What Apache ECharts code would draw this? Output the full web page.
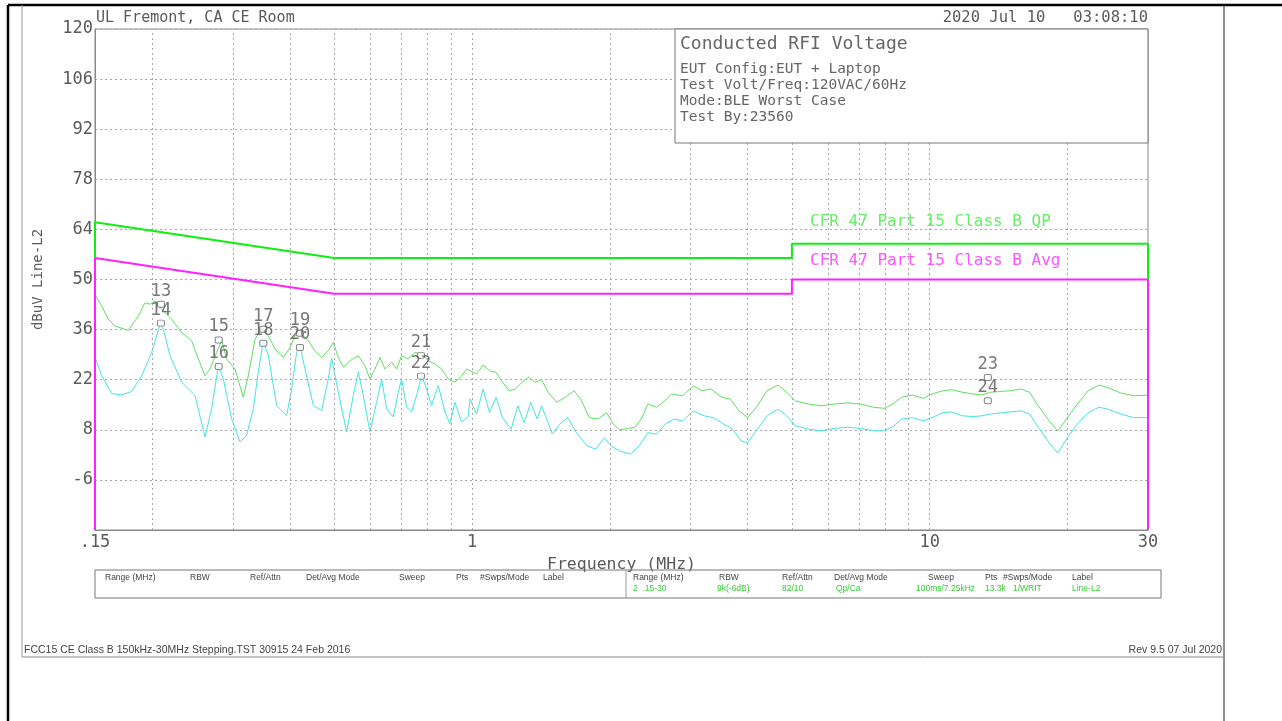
<!DOCTYPE html>
<html>
<head>
<meta charset="utf-8">
<script src="https://cdn.jsdelivr.net/npm/echarts@6/dist/echarts.min.js"></script>
<style>
  html, body { margin: 0; padding: 0; background: #fff; }
  #chart { width: 1282px; height: 721px; }
</style>
</head>
<body>
<div id="chart"></div>
<script>
// values (MHz / dBuV)
const xTickText = { '0.15': '.15', '1': '1', '10': '10', '30': '30' };
const gridFreqs = [0.2, 0.3, 0.4, 0.5, 0.6, 0.7, 0.8, 0.9, 1, 2, 3, 4, 5, 6, 7, 8, 9, 10, 20];

const qpFreq = [
  0.150, 0.1551, 0.1604, 0.1659, 0.1774, 0.1866, 0.1929, 0.1979, 0.2029, 0.2098,
  0.2206, 0.2320, 0.2439, 0.2523, 0.2609, 0.2675, 0.2766, 0.2837, 0.2909, 0.3033,
  0.3163, 0.3244, 0.3355, 0.3469, 0.3588, 0.3710, 0.3869, 0.4001, 0.4103, 0.4243,
  0.4388, 0.4537, 0.4692, 0.4852, 0.4976, 0.5102, 0.5232, 0.5411, 0.5643, 0.5835,
  0.5983, 0.6135, 0.6292, 0.6452, 0.6672, 0.6842, 0.7016, 0.7255, 0.7503, 0.7759,
  0.8023, 0.8297, 0.8580, 0.8872, 0.9174, 0.9488, 0.9730,
  0.990, 1.023, 1.057, 1.092, 1.128, 1.166, 1.205, 1.245, 1.286, 1.329,
  1.373, 1.419, 1.466, 1.532, 1.600, 1.672, 1.727, 1.804, 1.885, 1.969,
  2.034, 2.102, 2.196, 2.269, 2.344, 2.422, 2.531, 2.615, 2.731, 2.884,
  3.045, 3.181, 3.323, 3.510, 3.667, 3.830, 4.001, 4.180, 4.413, 4.661,
  4.869, 5.087, 5.431, 5.799, 6.190, 6.610, 7.058, 7.535, 7.958, 8.312,
  8.683, 9.171, 9.685, 10.12, 10.69, 11.16, 11.79, 12.45, 13.00, 13.58,
  14.19, 14.98, 15.82, 16.53, 17.27, 18.24, 19.05, 19.90, 21.02, 22.20,
  23.44, 24.49, 26.15, 27.91, 30.0
];
const qpLevel = [
  45.8, 42.6, 38.9, 37.0, 35.8, 39.8, 43.5, 43.1, 44.0, 41.7,
  38.9, 35.2, 32.9, 27.8, 23.1, 25.0, 29.6, 33.0, 27.8, 25.0,
  17.1, 23.1, 33.3, 36.1, 34.3, 30.6, 28.2, 31.0, 34.3, 34.7,
  32.9, 30.1, 28.2, 30.1, 32.4, 28.2, 25.5, 27.3, 28.7, 25.9,
  22.2, 25.0, 28.2, 25.0, 26.9, 25.0, 28.7, 27.8, 29.6, 29.2,
  27.3, 26.4, 25.0, 22.2, 21.3, 23.1, 25.0,
  24.5, 23.6, 26.1, 24.5, 24.1, 21.3, 18.9, 19.4, 21.3, 22.7,
  21.3, 22.0, 18.5, 15.7, 17.1, 18.9, 16.6, 11.4, 11.0, 12.8,
  9.6, 8.0, 8.4, 8.7, 11.0, 15.2, 14.3, 15.7, 18.0, 17.5,
  20.3, 18.9, 19.4, 17.1, 16.6, 13.3, 11.4, 14.3, 18.9, 20.5,
  18.5, 16.1, 15.2, 14.7, 15.2, 15.5, 15.2, 14.3, 14.0, 15.2,
  17.1, 17.7, 16.8, 18.0, 18.9, 19.2, 18.5, 18.0, 17.7, 18.5,
  18.7, 18.9, 19.4, 18.5, 14.7, 10.5, 7.7, 11.0, 15.2, 18.9,
  20.5, 19.8, 18.3, 17.5, 17.7
];

const avgFreq = [
  0.150, 0.1551, 0.1631, 0.1716, 0.1804, 0.1897, 0.1995, 0.2081, 0.2116, 0.2188,
  0.2320, 0.2481, 0.2609, 0.2698, 0.2790, 0.2861, 0.2983, 0.3111, 0.3217, 0.3327,
  0.3411, 0.3498, 0.3588, 0.3741, 0.3935, 0.4035, 0.4137, 0.4207, 0.4315, 0.4499,
  0.4692, 0.4852, 0.4934, 0.5102, 0.5321, 0.5502, 0.5643, 0.5786, 0.5983, 0.6187,
  0.6345, 0.6506, 0.6728, 0.6900, 0.7016, 0.7195, 0.7378, 0.7566, 0.7759, 0.7956,
  0.8159, 0.8437, 0.8725, 0.8947, 0.9174, 0.9488, 0.9811,
  0.990, 1.023, 1.057, 1.092, 1.128, 1.166, 1.218, 1.259, 1.300, 1.344,
  1.388, 1.419, 1.498, 1.565, 1.618, 1.690, 1.784, 1.864, 1.947, 2.012,
  2.102, 2.220, 2.319, 2.422, 2.531, 2.644, 2.761, 2.884, 3.045, 3.216,
  3.360, 3.549, 3.707, 3.873, 4.001, 4.180, 4.413, 4.661, 4.869, 5.087,
  5.431, 5.799, 6.190, 6.610, 7.058, 7.535, 7.958, 8.312, 8.683, 9.171,
  9.685, 10.12, 10.69, 11.16, 11.79, 12.45, 13.00, 13.58, 14.19, 14.98,
  15.82, 16.53, 17.27, 18.24, 19.05, 19.90, 21.02, 22.20, 23.44, 24.49,
  26.15, 27.91, 30.0
];
const avgLevel = [
  28.2, 23.1, 18.1, 17.8, 18.7, 23.1, 29.6, 37.5, 36.1, 28.7,
  21.3, 17.6, 6.0, 13.9, 25.9, 22.2, 11.1, 4.6, 6.5, 13.9,
  24.1, 32.9, 28.7, 14.8, 12.0, 19.4, 29.6, 31.5, 25.0, 14.8,
  13.4, 22.2, 28.0, 18.5, 7.4, 17.6, 24.1, 17.6, 7.4, 15.7,
  22.2, 13.9, 11.6, 18.5, 22.2, 14.3, 13.0, 17.6, 23.1, 19.4,
  14.8, 20.4, 13.0, 9.7, 15.7, 10.2, 11.6,
  16.6, 12.4, 19.4, 12.8, 17.1, 11.4, 8.2, 14.7, 10.0, 15.7,
  11.0, 14.7, 6.8, 10.0, 11.4, 7.2, 3.5, 2.6, 5.8, 3.5,
  2.1, 1.2, 3.5, 7.2, 6.8, 9.6, 11.0, 10.5, 13.3, 11.9,
  11.4, 9.6, 8.2, 4.9, 4.4, 7.7, 11.9, 13.8, 11.9, 9.1,
  8.2, 7.7, 8.4, 8.7, 8.4, 7.7, 7.7, 8.9, 11.0, 11.4,
  10.5, 11.4, 12.8, 13.0, 11.9, 11.7, 11.9, 12.4, 12.7, 13.0,
  13.3, 12.4, 8.7, 4.4, 1.5, 5.4, 9.6, 12.8, 14.3, 13.8,
  12.4, 11.4, 11.4
];

const qpLimitFreq = [0.15, 0.15, 0.5, 5, 5, 30, 30];
const qpLimitLevel = [56, 66, 56, 56, 60, 60, 50];
const avgLimitFreq = [0.15, 0.15, 0.5, 5, 5, 30, 30];
const avgLimitLevel = [-20, 56, 46, 46, 50, 50, -20];

const markerIds = ['13', '14', '15', '16', '17', '18', '19', '20', '21', '22', '23', '24'];
const markerFreq = [0.209, 0.209, 0.2795, 0.2795, 0.3498, 0.3498, 0.4207, 0.4207, 0.7733, 0.7733, 13.4, 13.4];
const markerLevel = [43.1, 37.8, 33.1, 25.7, 36.1, 32.2, 35.0, 31.0, 28.8, 23.0, 22.6, 16.1];

const infoLines = ['EUT Config:EUT + Laptop', 'Test Volt/Freq:120VAC/60Hz', 'Mode:BLE Worst Case', 'Test By:23560'];
const tableHead = ['Range (MHz)', 'RBW', 'Ref/Attn', 'Det/Avg Mode', 'Sweep', 'Pts', '#Swps/Mode', 'Label'];
const tableRow = ['2  .15-30', '9k(-6dB)', '82/10', 'Qp/Ca', '100ms/7.25kHz', '13.3k', '1/WRIT', 'Line-L2'];

const zip = (xs, ys) => xs.map((x, i) => [x, ys[i]]);

const FONT = 'DejaVu Sans Mono';
const TXT = '#5a5a5a';
const GRID = '#a8a8a8';

const chart = echarts.init(document.getElementById('chart'));

function txt(x, y, text, size, color, align, family) {
  return {
    type: 'text', x, y, z: 120,
    style: {
      text, fontFamily: family || FONT, fontSize: size, fill: color || TXT,
      align: align || 'left', verticalAlign: 'middle'
    }
  };
}
function line(x1, y1, x2, y2, color, w) {
  return { type: 'line', z: 120, shape: { x1, y1, x2, y2 }, style: { stroke: color, lineWidth: w } };
}

const colHead = [105, 190, 250, 306, 399, 456, 480, 543];
const colHead2 = [633, 719, 782, 834, 928, 985, 1003, 1072];
const colVal2 = [633, 717, 782, 836, 916, 985, 1013, 1072];

const graphics = [
  line(8, 5, 1282, 5, '#000', 2.5),
  line(8, 5, 8, 721, '#000', 2.5),
  line(1224, 5, 1224, 721, '#222', 1),
  line(22, 5, 22, 657, '#999', 1),
  line(22, 657, 1224, 657, '#888', 1),
  txt(96, 18, 'UL Fremont, CA CE Room', 15),
  txt(1148, 18, '2020 Jul 10   03:08:10', 15.5, TXT, 'right'),
  { type: 'rect', z: 110, shape: { x: 675, y: 29, width: 473, height: 114 }, style: { fill: '#fff', stroke: '#777', lineWidth: 1 } },
  txt(680, 44, 'Conducted RFI Voltage', 18, '#666'),
  txt(810, 222, 'CFR 47 Part 15 Class B QP', 16, '#66ee66'),
  txt(810, 261, 'CFR 47 Part 15 Class B Avg', 16, '#ff55ff'),
  { type: 'rect', z: 110, shape: { x: 95, y: 570, width: 1066, height: 28 }, style: { fill: 'none', stroke: '#777', lineWidth: 1 } },
  line(626, 570, 626, 598, '#999', 1),
  txt(24, 650, 'FCC15 CE Class B 150kHz-30MHz Stepping.TST 30915 24 Feb 2016', 10.5, '#444', 'left', 'Liberation Sans'),
  txt(1222, 650, 'Rev 9.5 07 Jul 2020', 10.5, '#444', 'right', 'Liberation Sans')
];
infoLines.forEach((t, i) => graphics.push(txt(680, 69 + i * 16, t, 14.5, '#666')));
tableHead.forEach((t, i) => {
  graphics.push(txt(colHead[i], 578, t, 8.5, '#444', 'left', 'Liberation Sans'));
  graphics.push(txt(colHead2[i], 578, t, 8.5, '#444', 'left', 'Liberation Sans'));
});
tableRow.forEach((t, i) => {
  graphics.push(txt(colVal2[i], 589, t, 8.5, '#33cc33', 'left', 'Liberation Sans'));
});

const option = {
  animation: false,
  backgroundColor: '#fff',
  grid: { left: 95, right: 134, top: 29, bottom: 191, show: true, borderColor: '#888', borderWidth: 1 },
  xAxis: {
    type: 'log', logBase: 10, min: 0.15, max: 30,
    axisLine: { show: true, onZero: false, lineStyle: { color: '#888' } },
    axisTick: { show: false },
    splitLine: { show: false },
    axisLabel: {
      color: TXT, fontFamily: FONT, fontSize: 17, margin: 4,
      showMinLabel: true, showMaxLabel: true,
      formatter: v => xTickText[String(Math.round(v * 100) / 100)] || ''
    },
    name: 'Frequency (MHz)', nameLocation: 'middle', nameGap: 25,
    nameTextStyle: { color: TXT, fontFamily: FONT, fontSize: 16.5 }
  },
  yAxis: {
    type: 'value', min: -20, max: 120, interval: 14,
    axisLine: { show: true, lineStyle: { color: '#888' } },
    axisTick: { show: false },
    splitLine: { show: true, lineStyle: { color: GRID, type: [2, 3], width: 1 } },
    axisLabel: {
      color: TXT, fontFamily: FONT, fontSize: 17, margin: 2,
      formatter: v => (v === -20 ? '' : String(v))
    },
    name: 'dBuV Line-L2', nameLocation: 'middle', nameRotate: 90, nameGap: 50,
    nameTextStyle: { color: TXT, fontFamily: FONT, fontSize: 14 }
  },
  graphic: graphics,
  series: [
    {
      name: 'grid', type: 'line', data: [], silent: true,
      markLine: {
        silent: true, symbol: 'none', label: { show: false },
        lineStyle: { color: GRID, type: [2, 3], width: 1 },
        data: gridFreqs.map(f => ({ xAxis: f }))
      }
    },
    {
      name: 'Average', type: 'line', data: zip(avgFreq, avgLevel), symbol: 'none',
      lineStyle: { color: '#44e4e4', width: 1 }, z: 3
    },
    {
      name: 'Peak', type: 'line', data: zip(qpFreq, qpLevel), symbol: 'none',
      lineStyle: { color: '#5ee05e', width: 1 }, z: 4
    },
    {
      name: 'Avg limit', type: 'line', data: zip(avgLimitFreq, avgLimitLevel), symbol: 'none',
      lineStyle: { color: '#ff22ff', width: 2 }, z: 5
    },
    {
      name: 'QP limit', type: 'line', data: zip(qpLimitFreq, qpLimitLevel), symbol: 'none',
      lineStyle: { color: '#11ee11', width: 2 }, z: 6
    },
    {
      name: 'Markers', type: 'scatter', z: 8,
      data: markerFreq.map((f, i) => ({ value: [f, markerLevel[i]], name: markerIds[i] })),
      symbol: 'roundRect', symbolSize: [7, 6],
      itemStyle: { color: '#fff', borderColor: '#666', borderWidth: 1 },
      label: {
        show: true, position: 'top', distance: 1,
        formatter: p => p.name,
        color: '#555', fontFamily: FONT, fontSize: 17
      }
    }
  ]
};

chart.setOption(option);
</script>
</body>
</html>
